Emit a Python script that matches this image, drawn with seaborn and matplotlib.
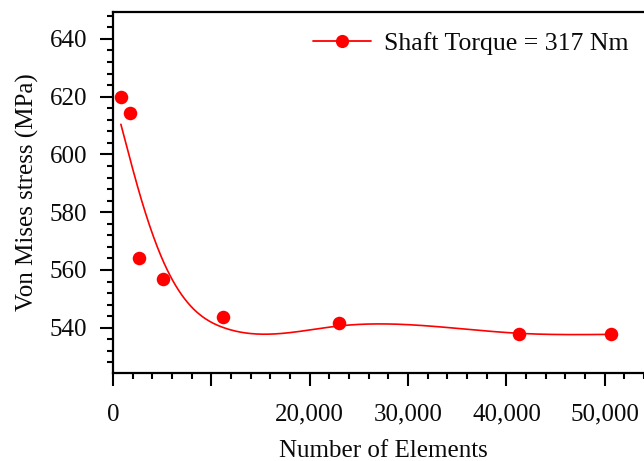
import numpy as np
import pandas as pd
import matplotlib
matplotlib.use("Agg")
import matplotlib.pyplot as plt
import seaborn as sns
from matplotlib.lines import Line2D
from matplotlib.ticker import MultipleLocator, FixedLocator, FixedFormatter

elements = [800, 1700, 2600, 5100, 11200, 23000, 41300, 50600]
stress = [620.0, 614.5, 564.0, 557.0, 543.8, 541.6, 537.8, 537.8]
series_label = "Shaft Torque = 317 Nm"
x_ticks = [0, 10000, 20000, 30000, 40000, 50000]
x_tick_labels = ["0", "", "20,000", "30,000", "40,000", "50,000"]
y_ticks = [540, 560, 580, 600, 620, 640]
smoothing = 20.0  # smoothing-spline parameter (x in thousands)


def smoothing_spline(x, y, lam, n=500):
    x = np.asarray(x, float); y = np.asarray(y, float)
    nn = len(x)
    h = np.diff(x)
    Q = np.zeros((nn, nn - 2))
    R = np.zeros((nn - 2, nn - 2))
    for j in range(1, nn - 1):
        c = j - 1
        Q[j - 1, c] = 1 / h[j - 1]
        Q[j, c] = -1 / h[j - 1] - 1 / h[j]
        Q[j + 1, c] = 1 / h[j]
        R[c, c] = (h[j - 1] + h[j]) / 3
        if c + 1 < nn - 2:
            R[c, c + 1] = R[c + 1, c] = h[j] / 6
    K = Q @ np.linalg.solve(R, Q.T)
    g = np.linalg.solve(np.eye(nn) + lam * K, y)
    gam = np.zeros(nn)
    gam[1:-1] = np.linalg.solve(R, Q.T @ g)
    xs = np.linspace(x[0], x[-1], n)
    i = np.clip(np.searchsorted(x, xs) - 1, 0, nn - 2)
    xl, xr, hi = x[i], x[i + 1], h[i]
    ys = ((xs - xl) * g[i + 1] + (xr - xs) * g[i]) / hi - (xs - xl) * (xr - xs) / 6 * (
        (1 + (xs - xl) / hi) * gam[i + 1] + (1 + (xr - xs) / hi) * gam[i])
    return xs, ys


sns.set_theme(style="ticks")
plt.rcParams["font.family"] = ["Liberation Serif", "DejaVu Serif"]

W, H = 644, 461
fig = plt.figure(figsize=(W / 100, H / 100), dpi=100)
ax = fig.add_axes([113 / W, 1 - 372.5 / H, (654 - 113) / W, (372.5 - 11.5) / H])

xk = np.array(elements) / 1000.0
xs, ys = smoothing_spline(xk, stress, smoothing)
fit = pd.DataFrame({"Elements": xs * 1000, "Stress": ys})
sns.lineplot(data=fit, x="Elements", y="Stress", ax=ax, color="#FF0000", lw=1.2,
             legend=False)

df = pd.DataFrame({"Elements": elements, "Stress": stress})
sns.scatterplot(data=df, x="Elements", y="Stress", ax=ax, color="#FF0000", s=95,
                edgecolor="#FF0000", linewidth=0, legend=False, zorder=3)

ax.set_xlim(0, 55000)
ax.set_ylim(524.5, 649.5)
ax.xaxis.set_major_locator(FixedLocator(x_ticks))
ax.xaxis.set_major_formatter(FixedFormatter(x_tick_labels))
ax.xaxis.set_minor_locator(MultipleLocator(2000))
ax.yaxis.set_major_locator(FixedLocator(y_ticks))
ax.yaxis.set_minor_locator(MultipleLocator(4))

for s in ["left", "bottom", "top", "right"]:
    ax.spines[s].set_color("black")
    ax.spines[s].set_linewidth(1.6)
ax.tick_params(axis="both", which="major", length=9.5, width=1.5, color="black",
               labelsize=18, labelcolor="#0a0a0a")
ax.tick_params(axis="both", which="minor", length=4.5, width=1.5, color="black")
ax.tick_params(axis="x", which="major", pad=13)
ax.tick_params(axis="y", which="major", pad=9)

ax.set_xlabel("Number of Elements", fontsize=18, labelpad=10, color="#0a0a0a")
ax.set_ylabel("Von Mises stress (MPa)", fontsize=18, labelpad=8, color="#0a0a0a")

handle = Line2D([0], [0], color="#FF0000", lw=1.3, marker="o", markersize=9.5,
                markerfacecolor="#FF0000", markeredgewidth=0)
leg = ax.legend(handles=[handle], labels=[series_label], loc="center left",
                bbox_to_anchor=(313 / W, 1 - 44 / H), bbox_transform=fig.transFigure,
                frameon=False, fontsize=18.5, handlelength=2.25, handletextpad=0.5,
                borderpad=0, borderaxespad=0)
for t in leg.get_texts():
    t.set_color("#0a0a0a")

fig.savefig("out.png", dpi=100)
